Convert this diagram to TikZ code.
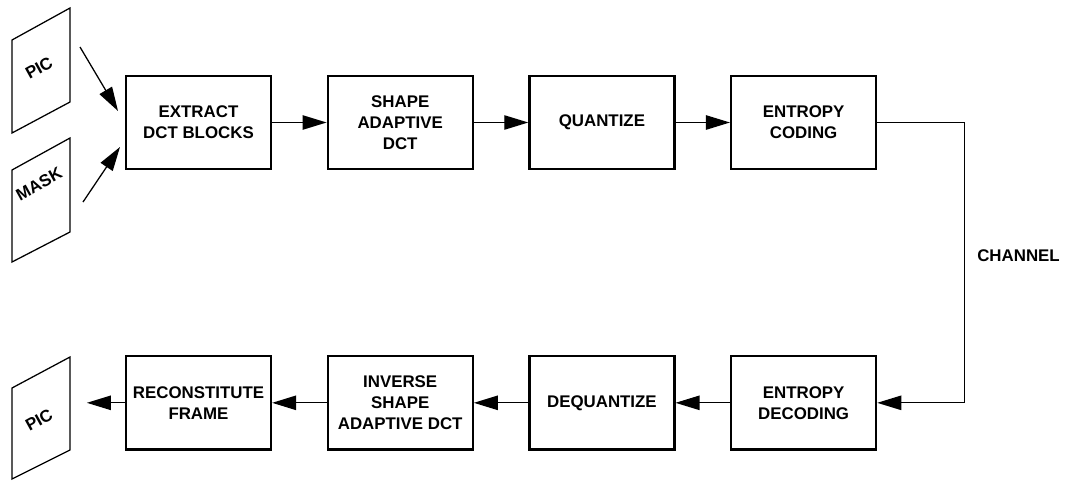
\documentclass[tikz,border=0pt]{standalone}
\usepackage{fontspec}
\setmainfont{Liberation Sans}
\usetikzlibrary{positioning, arrows.meta, calc}

\tikzset{
  blok/.style={draw, line width=1.6pt, minimum width=3.625cm, minimum height=2.33cm,
    align=center, inner sep=0pt, font=\bfseries\fontsize{12}{15}\selectfont},
  lbl/.style={inner sep=0pt, font=\bfseries\fontsize{12}{15}\selectfont},
  arr/.style={line width=0.9pt, -{Triangle[length=6mm, width=3.6mm]}},
  sheet/.style={line width=0.9pt}
}

\begin{document}
\begin{tikzpicture}[x=0.025cm, y=-0.025cm, node distance=1.36cm]
\useasboundingbox (0,0) rectangle (1065,480);

% encoder
\node[blok] (extract) at (198.5,122.5) {EXTRACT\\DCT BLOCKS};
\node[blok, right=of extract] (sadct) {SHAPE\\ADAPTIVE\\DCT};
\node[blok, right=of sadct] (quant) {QUANTIZE};
\node[blok, right=of quant] (encode) {ENTROPY\\CODING};

% decoder
\node[blok, below=4.62cm of encode] (decode) {ENTROPY\\DECODING};
\node[blok, left=of decode] (dequant) {DEQUANTIZE};
\node[blok, left=of dequant] (isadct) {INVERSE\\SHAPE\\ADAPTIVE DCT};
\node[blok, left=of isadct] (recon) {RECONSTITUTE\\FRAME};

% input and output sheets
\draw[sheet] (12,40) -- (70,8) -- (70,102) -- (12,133) -- cycle;
\node[lbl, rotate=29] (picin) at (39,68) {PIC};
\draw[sheet] (12,170) -- (70,138) -- (70,232) -- (12,262) -- cycle;
\node[lbl, rotate=29] (mask) at (39,184) {MASK};
\draw[sheet] (12,388) -- (70,357) -- (70,450) -- (12,479) -- cycle;
\node[lbl, rotate=29] (picout) at (39,420) {PIC};

\coordinate (picstart) at (80,47);
\coordinate (picend) at (118,111);
\coordinate (maskstart) at (83,202);
\coordinate (maskend) at (120,147);
\coordinate (outend) at ($(recon.west)+(-38,0)$);
\coordinate (chan) at ($(encode.east)+(87,0)$);

\draw[arr] (picstart) -- (picend);
\draw[arr] (maskstart) -- (maskend);
\draw[arr] (extract) -- (sadct);
\draw[arr] (sadct) -- (quant);
\draw[arr] (quant) -- (encode);
\draw[arr] (encode.east) -- (chan) |- (decode.east);
\draw[arr] (decode) -- (dequant);
\draw[arr] (dequant) -- (isadct);
\draw[arr] (isadct) -- (recon);
\draw[arr] (recon.west) -- (outend);

\node[lbl, anchor=west] (channel) at (977,256) {CHANNEL};
\end{tikzpicture}
\end{document}
